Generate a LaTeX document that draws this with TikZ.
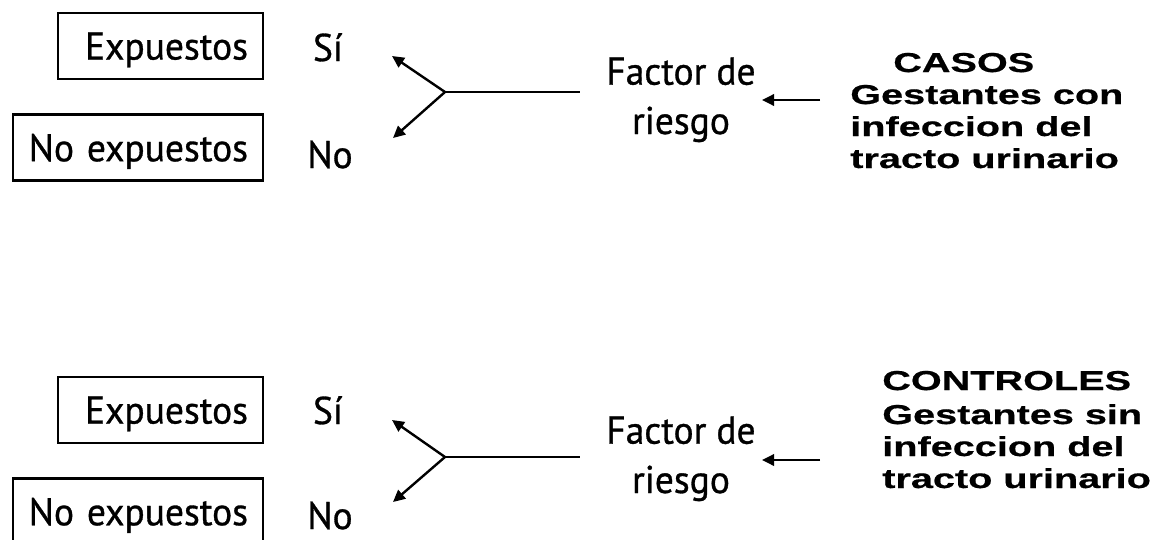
\documentclass[tikz,border=0pt]{standalone}
\usepackage{fontspec}
\usetikzlibrary{arrows.meta}
\newfontfamily\humsans[FakeStretch=0.97,FakeBold=0.8]{PT Sans}
\newfontfamily\boldsans[FakeStretch=1.45,FakeBold=0.6]{Liberation Sans}
\newcommand{\lefttext}{\humsans\fontsize{29}{34}\selectfont}
\newcommand{\righttext}{\boldsans\bfseries\fontsize{20.5}{24}\selectfont}
\begin{document}
\begin{tikzpicture}[x=0.75pt,y=-0.75pt,
  box/.style={draw, line width=1.9pt, inner xsep=11.25pt, inner ysep=0pt,
    align=right, font=\lefttext, minimum height=49.5pt, text depth=0pt},
  lbl/.style={font=\lefttext, inner sep=0pt},
  factor/.style={font=\humsans\fontsize{29}{37}\selectfont, align=center, inner sep=0pt},
  grp/.style={font=\righttext, inner sep=0pt},
  conn/.style={line width=1.8pt},
  tip/.style={-{Triangle[length=9pt,width=8.5pt]}}]
\useasboundingbox (0,0) rectangle (1170,539);
\clip (0,0) rectangle (1170,539);
\fill[white] (0,0) rectangle (1170,539);

% ---- cases ----
\node[box, text width=131.25pt] (exp1) at (160.5,46) {Expuestos};
\node[box, text width=165pt] (nexp1) at (138,147.5) {No expuestos};
\node[lbl, anchor=base] (si1) at (328,61) {Sí};
\node[lbl, anchor=base] (no1) at (330,168) {No};
\coordinate (j1) at (445,92);
\coordinate (up1) at (392,56);
\coordinate (dn1) at (393,138);
\coordinate (stem1) at (580,92);
\draw[conn, tip] (j1) -- (up1);
\draw[conn, tip] (j1) -- (dn1);
\draw[conn] (j1) -- (stem1);
% the base anchor of a multi-line node sits on its last line
\node[factor, anchor=base] (fac1) at (681,134) {Factor de\\riesgo};
\coordinate (from1) at (820,100);
\coordinate (to1) at (762,100);
\draw[conn, tip] (from1) -- (to1);
\node[grp, anchor=base west] (head1) at (893,72) {CASOS};
\node[grp, anchor=base west, align=left] (body1) at (850,168)
  {Gestantes con\\infeccion del\\tracto urinario};

% ---- controls ----
\node[box, text width=131.25pt] (exp2) at (160.5,410) {Expuestos};
\node[box, text width=165pt] (nexp2) at (138,511.5) {No expuestos};
\node[lbl, anchor=base] (si2) at (328,424) {Sí};
\node[lbl, anchor=base] (no2) at (330,529) {No};
\coordinate (j2) at (445,457);
\coordinate (up2) at (392,420);
\coordinate (dn2) at (393,502);
\coordinate (stem2) at (580,457);
\draw[conn, tip] (j2) -- (up2);
\draw[conn, tip] (j2) -- (dn2);
\draw[conn] (j2) -- (stem2);
\node[factor, anchor=base] (fac2) at (681,493) {Factor de\\riesgo};
\coordinate (from2) at (820,460);
\coordinate (to2) at (762,460);
\draw[conn, tip] (from2) -- (to2);
\node[grp, anchor=base west] (head2) at (882,390) {CONTROLES};
\node[grp, anchor=base west, align=left] (body2) at (882,488)
  {Gestantes sin\\infeccion del\\tracto urinario};
\end{tikzpicture}
\end{document}
